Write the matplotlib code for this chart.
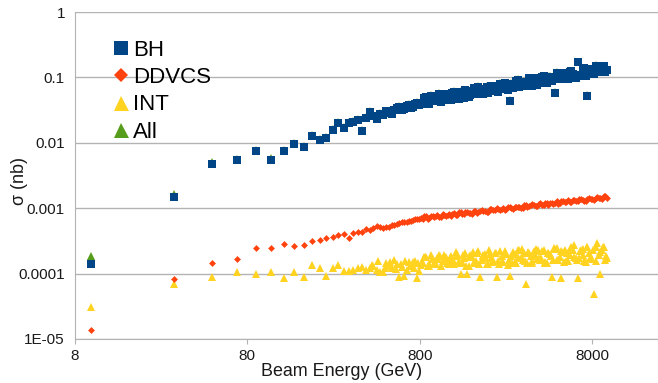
import matplotlib
matplotlib.use('Agg')
import matplotlib.pyplot as plt
from matplotlib.ticker import FixedLocator, FixedFormatter, NullLocator
from matplotlib.lines import Line2D

plt.rcParams['font.family'] = ['Liberation Sans', 'DejaVu Sans']

# ---- main sample of points ----
energy = [10, 30, 50, 70, 90, 110, 130, 150, 170, 190, 210, 230, 250, 270, 290,
          310, 330, 350, 370, 390, 410, 430, 450, 470, 490, 530, 570, 610, 650,
          690, 730, 770, 810,
          850, 890, 930, 970, 1010, 1060, 1110, 1160, 1210, 1260, 1320, 1380,
          1440, 1500, 1570, 1640, 1710, 1790, 1870, 1950, 2030, 2130, 2230, 2330,
          2430, 2530, 2650, 2770, 2890, 3010, 3150, 3290, 3430, 3590, 3750, 3910,
          4090, 4270, 4450, 4650, 4850, 5070, 5290, 5530, 5770, 6030, 6290, 6570,
          6870, 7170, 7490, 7830, 8170, 8530, 8910, 9310, 9710]

bh = [1.4e-4, 1.48e-3, 4.8e-3, 5.46e-3, 7.5e-3, 5.46e-3, 7.5e-3, 9.5e-3, 8.7e-3,
      0.0128, 0.011, 0.012, 0.0157, 0.0201, 0.0168, 0.0201, 0.0208, 0.0223,
      0.0151, 0.0239, 0.0296, 0.0257, 0.0231, 0.0276, 0.0266, 0.0286, 0.0317,
      0.0353, 0.033, 0.0379, 0.035, 0.0406, 0.039,
      0.0476, 0.0396, 0.0521, 0.0433, 0.0506, 0.0421, 0.0553, 0.0504, 0.0458,
      0.0601, 0.0512, 0.060, 0.0486, 0.0596, 0.0531, 0.0682, 0.0565, 0.0664,
      0.0551, 0.0723, 0.0628, 0.0736, 0.0612, 0.0805, 0.0668, 0.0782, 0.0437,
      0.0693, 0.0891, 0.0706, 0.0847, 0.0771, 0.0968, 0.075, 0.0964, 0.0857,
      0.1028, 0.0834, 0.1021, 0.0887, 0.0575, 0.1164, 0.0966, 0.1159, 0.094,
      0.1236, 0.1074, 0.172, 0.1045, 0.1374, 0.052, 0.1337, 0.1132, 0.1455,
      0.1236, 0.1483, 0.1318]

ddvcs = [1.38e-5, 8.3e-5, 1.45e-4, 1.67e-4, 2.45e-4, 2.45e-4, 2.84e-4, 2.64e-4,
         2.73e-4, 3.15e-4, 3.27e-4, 3.5e-4, 3.63e-4, 3.89e-4, 4.03e-4, 3.5e-4,
         4.18e-4, 4.33e-4, 4.4e-4, 4.81e-4, 4.7e-4, 5.0e-4, 5.34e-4, 5.1e-4,
         4.98e-4, 5.16e-4, 5.6e-4, 5.94e-4, 6.1e-4, 6.4e-4, 6.5e-4, 6.9e-4, 7.0e-4,
         7.50e-4, 6.93e-4, 7.53e-4, 7.28e-4, 7.91e-4, 7.31e-4, 7.94e-4, 7.87e-4,
         7.60e-4, 8.43e-4, 8.0e-4, 8.67e-4, 8.02e-4, 8.69e-4, 8.41e-4, 9.14e-4,
         8.43e-4, 9.16e-4, 9.08e-4, 8.77e-4, 9.73e-4, 9.23e-4, 1.002e-3, 9.25e-4,
         1.005e-3, 9.70e-4, 1.054e-3, 9.75e-4, 1.059e-3, 1.047e-3, 1.014e-3,
         1.127e-3, 1.064e-3, 1.156e-3, 1.069e-3, 1.159e-3, 1.122e-3, 1.216e-3,
         1.125e-3, 1.219e-3, 1.208e-3, 1.169e-3, 1.297e-3, 1.227e-3, 1.334e-3,
         1.230e-3, 1.337e-3, 1.294e-3, 1.403e-3, 1.297e-3, 1.406e-3, 1.396e-3,
         1.349e-3, 1.500e-3, 1.416e-3, 1.538e-3, 1.452e-3]

interference = [3.1e-5, 6.9e-5, 8.9e-5, 1.05e-4, 1.0e-4, 1.05e-4, 8.5e-5, 1.07e-4,
                8.97e-5, 1.34e-4, 1.2e-4, 9.3e-5, 1.22e-4, 1.35e-4, 1.1e-4, 1.1e-4,
                1.15e-4, 1.2e-4, 1.25e-4, 1.15e-4, 1.2e-4, 1.3e-4, 1.12e-4, 1.05e-4,
                1.05e-4, 1.3e-4, 1.6e-4, 8.9e-5, 9.3e-5, 1.5e-4, 1.5e-4, 8.5e-5, 1.35e-4,
                1.81e-4, 1.32e-4, 1.95e-4, 1.46e-4, 1.71e-4, 1.31e-4, 1.90e-4, 1.55e-4,
                1.83e-4, 1.39e-4, 1.98e-4, 9.9e-5, 1.74e-4, 1.0e-4, 1.92e-4, 1.50e-4,
                2.07e-4, 8.9e-5, 1.87e-4, 1.42e-4, 2.01e-4, 1.61e-4, 8.9e-5, 2.19e-4,
                1.52e-4, 1.97e-4, 9.2e-5, 2.13e-4, 1.45e-4, 2.30e-4, 1.64e-4, 6.9e-5,
                2.07e-4, 1.55e-4, 2.40e-4, 1.71e-4, 2.21e-4, 1.47e-4, 2.04e-4, 8.9e-5,
                2.36e-4, 1.64e-4, 8.7e-5, 2.33e-4, 1.58e-4, 2.52e-4, 2.73e-4, 8.5e-5,
                2.28e-4, 1.58e-4, 2.52e-4, 1.75e-4, 4.9e-5, 2.93e-4, 1.0e-4, 2.52e-4,
                1.75e-4]

total = [1.84e-4, 1.63e-3, 5.03e-3, 5.73e-3, 7.85e-3, 5.81e-3, 7.87e-3, 9.87e-3,
         9.06e-3, 0.01325, 0.01145, 0.01244, 0.01618, 0.02062, 0.01731, 0.02056,
         0.02134, 0.02285, 0.01577, 0.02450, 0.03019, 0.02633, 0.02375, 0.02821,
         0.02720, 0.02925, 0.03242, 0.03598, 0.03370, 0.03869, 0.03580, 0.04138,
         0.03983,
         0.04853, 0.04043, 0.05305, 0.04417, 0.05156, 0.04296, 0.05628, 0.05134,
         0.04674, 0.06108, 0.0522, 0.06097, 0.04958, 0.06057, 0.05413, 0.06926,
         0.05755, 0.06741, 0.0562, 0.07332, 0.06397, 0.07468, 0.06229, 0.08164,
         0.06796, 0.07937, 0.04485, 0.07049, 0.0903, 0.07188, 0.08588, 0.0783,
         0.09807, 0.07631, 0.09771, 0.08703, 0.10414, 0.08476, 0.10343, 0.09001,
         0.05894, 0.11773, 0.09798, 0.11736, 0.09549, 0.12508, 0.10901, 0.17338,
         0.10613, 0.13886, 0.05366, 0.13527, 0.1146, 0.14729, 0.12512, 0.15009,
         0.13343]

# ---- additional points between the ones above (dense part of the scan) ----
energy_fill = [510, 550, 590, 630, 670, 710, 750, 790,
               830, 870, 910, 950, 990, 1035, 1085, 1135, 1185, 1235, 1290, 1350,
               1410, 1470, 1535, 1605, 1675, 1750, 1830, 1910, 1990, 2080, 2180,
               2280, 2380, 2480, 2590, 2710, 2830, 2950, 3080, 3220, 3360, 3510,
               3670, 3830, 4000, 4180, 4360, 4550, 4750, 4960, 5180, 5410, 5650,
               5900, 6160, 6430, 6720, 7020, 7330, 7660, 8000, 8350, 8720, 9110,
               9510]

bh_fill = [0.0305, 0.0277, 0.0335, 0.0312, 0.0365, 0.0338, 0.0392, 0.0372,
           0.0402, 0.0494, 0.0391, 0.0491, 0.0457, 0.0561, 0.0445, 0.0521, 0.0453,
           0.0569, 0.053, 0.046, 0.0515, 0.0632, 0.0501, 0.063, 0.0586, 0.0719,
           0.057, 0.0668, 0.0579, 0.0728, 0.0679, 0.059, 0.0661, 0.0811, 0.0641,
           0.0805, 0.075, 0.092, 0.0729, 0.0855, 0.0743, 0.0933, 0.0869, 0.0755,
           0.0845, 0.1038, 0.0822, 0.103, 0.0959, 0.1178, 0.0933, 0.1094, 0.0951,
           0.1194, 0.1112, 0.0966, 0.1081, 0.1327, 0.1052, 0.1321, 0.123, 0.1507,
           0.1194, 0.14, 0.1216]

ddvcs_fill = [5.25e-4, 5.45e-4, 5.7e-4, 6.05e-4, 6.2e-4, 6.45e-4, 6.75e-4, 6.85e-4,
              6.95e-4, 7.55e-4, 6.98e-4, 7.59e-4, 7.50e-4, 7.26e-4, 8.07e-4, 7.64e-4,
              8.11e-4, 8.02e-4, 7.76e-4, 8.61e-4, 8.15e-4, 8.65e-4, 8.55e-4, 8.28e-4,
              9.20e-4, 8.69e-4, 9.23e-4, 9.14e-4, 8.83e-4, 9.82e-4, 9.29e-4, 9.86e-4,
              9.75e-4, 9.44e-4, 1.047e-3, 9.91e-4, 1.052e-3, 1.040e-3, 1.007e-3,
              1.119e-3, 1.057e-3, 1.122e-3, 1.112e-3, 1.074e-3, 1.194e-3, 1.130e-3,
              1.197e-3, 1.186e-3, 1.146e-3, 1.274e-3, 1.205e-3, 1.276e-3, 1.265e-3,
              1.225e-3, 1.358e-3, 1.285e-3, 1.365e-3, 1.349e-3, 1.306e-3, 1.452e-3,
              1.371e-3, 1.455e-3, 1.442e-3, 1.393e-3, 1.549e-3]

interference_fill = [1.45e-4, 1.2e-4, 1.4e-4, 1.25e-4, 1.15e-4, 1.3e-4, 1.55e-4, 1.1e-4,
                     1.43e-4, 1.81e-4, 1.32e-4, 1.67e-4, 1.42e-4, 1.93e-4, 1.57e-4,
                     1.77e-4, 1.42e-4, 1.67e-4, 1.88e-4, 1.54e-4, 1.48e-4, 2.05e-4,
                     1.29e-4, 1.79e-4, 1.43e-4, 2.18e-4, 1.62e-4, 1.96e-4, 1.39e-4,
                     1.76e-4, 2.08e-4, 1.58e-4, 1.55e-4, 2.15e-4, 1.36e-4, 1.89e-4,
                     1.51e-4, 2.30e-4, 1.71e-4, 2.07e-4, 1.47e-4, 1.85e-4, 2.19e-4,
                     1.67e-4, 1.64e-4, 2.27e-4, 1.44e-4, 2.0e-4, 1.59e-4, 2.42e-4,
                     1.80e-4, 2.17e-4, 1.55e-4, 1.95e-4, 2.31e-4, 1.76e-4, 1.73e-4,
                     2.39e-4, 1.51e-4, 2.10e-4, 1.67e-4, 2.55e-4, 1.90e-4, 2.29e-4,
                     1.63e-4]

total_fill = [0.03117, 0.02837, 0.03421, 0.03193, 0.03724, 0.03458, 0.04003, 0.03800,
              0.04104, 0.05034, 0.03993, 0.05003, 0.04659, 0.05702, 0.04546, 0.05304,
              0.04625, 0.05787, 0.05396, 0.04702, 0.05246, 0.06427, 0.05108, 0.06401,
              0.05966, 0.07299, 0.05809, 0.06791, 0.05892, 0.07396, 0.06904, 0.06014,
              0.06723, 0.08226, 0.06528, 0.08168, 0.0762, 0.09327, 0.07408, 0.08683,
              0.0755, 0.09461, 0.08823, 0.07674, 0.08586, 0.10516, 0.08354, 0.10439,
              0.0972, 0.11932, 0.09469, 0.11089, 0.09652, 0.12082, 0.11279, 0.09806,
              0.10964, 0.13429, 0.10666, 0.13376, 0.12454, 0.15241, 0.12103, 0.14162,
              0.12331]

# ---- extra INT points (the INT band is wide, dense) ----
energy_int_extra = [420, 460, 500, 540, 580, 620, 660, 700, 740, 780,
                    820, 860, 900, 940, 980, 1020, 1048, 1098, 1148, 1198,
                    1248, 1305, 1365, 1425, 1485, 1552, 1622, 1692, 1770, 1850,
                    1930, 2010, 2105, 2205, 2305, 2405, 2505, 2620, 2740, 2860,
                    2980, 3115, 3255, 3395, 3550, 3710, 3870, 4045, 4225, 4405,
                    4600, 4800, 5015, 5235, 5470, 5710, 5965, 6225, 6500, 6795,
                    7095, 7410, 7745, 8085, 8440, 8815, 9210, 9610]

interference_extra = [1.35e-4, 1.58e-4, 1.23e-4, 1.48e-4, 1.17e-4, 1.41e-4, 1.55e-4,
                      1.29e-4, 1.2e-4, 1.45e-4,
                      1.51e-4, 1.78e-4, 1.38e-4, 1.66e-4, 1.38e-4, 1.67e-4, 1.85e-4,
                      1.54e-4, 1.44e-4, 1.74e-4,
                      1.63e-4, 2.16e-4, 1.44e-4, 1.95e-4, 1.32e-4, 1.79e-4, 2.11e-4,
                      1.57e-4, 1.41e-4, 1.91e-4,
                      1.71e-4, 2.26e-4, 1.5e-4, 2.03e-4, 1.38e-4, 1.87e-4, 2.21e-4,
                      1.64e-4, 1.47e-4, 2.0e-4,
                      1.78e-4, 2.36e-4, 1.57e-4, 2.12e-4, 1.44e-4, 1.95e-4, 2.31e-4,
                      1.71e-4, 1.53e-4, 2.08e-4,
                      1.86e-4, 2.47e-4, 1.63e-4, 2.21e-4, 1.51e-4, 2.04e-4, 2.40e-4,
                      1.79e-4, 1.60e-4, 2.18e-4,
                      1.95e-4, 2.57e-4, 1.71e-4, 2.31e-4, 1.57e-4, 2.13e-4, 2.51e-4,
                      1.87e-4]

series_names = ['BH', 'DDVCS', 'INT', 'All']
x_ticks = [8, 80, 800, 8000]
x_tick_labels = ['8', '80', '800', '8000']
y_ticks = [1e-5, 1e-4, 1e-3, 1e-2, 1e-1, 1]
y_tick_labels = ['1E-05', '0.0001', '0.001', '0.01', '0.1', '1']

c_bh, c_dd, c_int, c_all = '#004586', '#ff420e', '#ffd320', '#579d1c'
grid_c = '#b3b3b3'
txt_c = '#1a1a1a'

fig = plt.figure(figsize=(6.58, 3.83), dpi=100)
ax = fig.add_axes([74.6 / 658, 44 / 383, (658 - 74.6) / 658, 327 / 383])
ax.set_xscale('log')
ax.set_yscale('log')
ax.set_xlim(8, 19190)
ax.set_ylim(1e-5, 1)

e_all = energy + energy_fill
ax.plot(e_all, total + total_fill, linestyle='none', marker='^', ms=5.6,
        color=c_all, mew=0, zorder=3)
ax.plot(e_all + energy_int_extra, interference + interference_fill + interference_extra,
        linestyle='none', marker='^', ms=5.6, color=c_int, mew=0, zorder=4)
ax.plot(e_all, ddvcs + ddvcs_fill, linestyle='none', marker='D', ms=3.5,
        color=c_dd, mew=0, zorder=5)
ax.plot(e_all, bh + bh_fill, linestyle='none', marker='s', ms=5.4,
        color=c_bh, mew=0, zorder=6)

ax.xaxis.set_major_locator(FixedLocator(x_ticks))
ax.xaxis.set_major_formatter(FixedFormatter(x_tick_labels))
ax.xaxis.set_minor_locator(NullLocator())
ax.yaxis.set_major_locator(FixedLocator(y_ticks))
ax.yaxis.set_major_formatter(FixedFormatter(y_tick_labels))
ax.yaxis.set_minor_locator(NullLocator())

ax.grid(axis='y', color=grid_c, linewidth=1.0, zorder=0)
ax.set_axisbelow(True)
for s in ['top', 'right']:
    ax.spines[s].set_visible(False)
ax.spines['left'].set_color(grid_c)
ax.spines['bottom'].set_color(grid_c)
ax.tick_params(axis='y', length=0, pad=7, labelsize=11, labelcolor=txt_c)
ax.tick_params(axis='x', length=3.5, color=grid_c, pad=4, labelsize=11, labelcolor=txt_c)

handles = [
    Line2D([], [], linestyle='none', marker='s', ms=9.7, color=c_bh, mew=0),
    Line2D([], [], linestyle='none', marker='D', ms=7.4, color=c_dd, mew=0),
    Line2D([], [], linestyle='none', marker='^', ms=10.8, color=c_int, mew=0),
    Line2D([], [], linestyle='none', marker='^', ms=10.8, color=c_all, mew=0),
]
fig.legend(handles, series_names, loc='upper left', bbox_to_anchor=(114 / 658, 1 - 40 / 383),
           frameon=False, fontsize=16, handlelength=0.6, handletextpad=0.24,
           labelspacing=0.28, borderpad=0, borderaxespad=0)

fig.text(342 / 658, 1 - 372 / 383, 'Beam Energy (GeV)', ha='center', va='center',
         fontsize=12.9, color=txt_c)
fig.text(20 / 658, 1 - 181 / 383, 'σ (nb)', ha='center', va='center', rotation=90,
         fontsize=12.9, color=txt_c)

fig.savefig('out.png', dpi=100)
